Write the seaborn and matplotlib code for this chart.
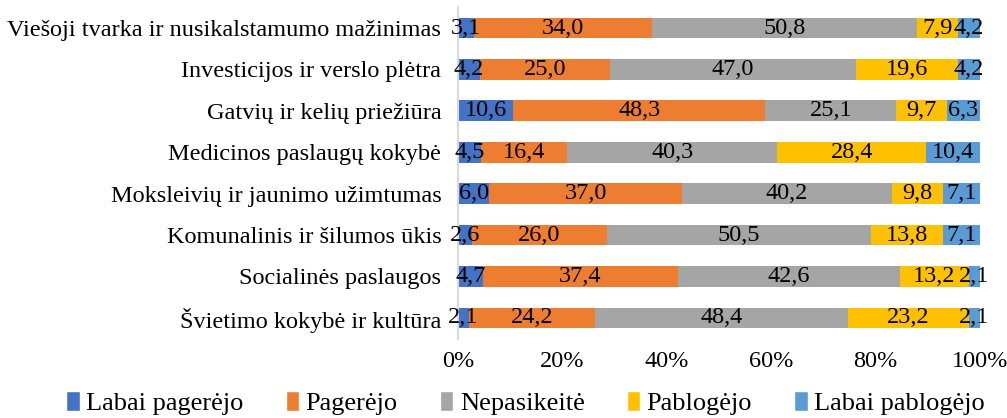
import matplotlib
matplotlib.use("Agg")
import matplotlib.pyplot as plt
import seaborn as sns
import numpy as np
import pandas as pd
from matplotlib.patches import Patch

categories = [
    "Viešoji tvarka ir nusikalstamumo mažinimas",
    "Investicijos ir verslo plėtra",
    "Gatvių ir kelių priežiūra",
    "Medicinos paslaugų kokybė",
    "Moksleivių ir jaunimo užimtumas",
    "Komunalinis ir šilumos ūkis",
    "Socialinės paslaugos",
    "Švietimo kokybė ir kultūra",
]
series_names = ["Labai pagerėjo", "Pagerėjo", "Nepasikeitė", "Pablogėjo", "Labai pablogėjo"]
labai_pagerejo = [3.1, 4.2, 10.6, 4.5, 6.0, 2.6, 4.7, 2.1]
pagerejo = [34.0, 25.0, 48.3, 16.4, 37.0, 26.0, 37.4, 24.2]
nepasikeite = [50.8, 47.0, 25.1, 40.3, 40.2, 50.5, 42.6, 48.4]
pablogejo = [7.9, 19.6, 9.7, 28.4, 9.8, 13.8, 13.2, 23.2]
labai_pablogejo = [4.2, 4.2, 6.3, 10.4, 7.1, 7.1, 2.1, 2.1]
colors = ["#4472C4", "#ED7D31", "#A5A5A5", "#FFC000", "#5B9BD5"]
xticks = [0, 20, 40, 60, 80, 100]

sns.set_theme(style="white")
plt.rcParams["font.family"] = ["Liberation Serif", "DejaVu Serif"]
plt.rcParams["text.color"] = "black"
plt.rcParams["xtick.color"] = "black"
plt.rcParams["ytick.color"] = "black"
plt.rcParams["axes.labelcolor"] = "black"

vals = np.array([labai_pagerejo, pagerejo, nepasikeite, pablogejo, labai_pablogejo])
totals = vals.sum(axis=0)
pct = vals / totals * 100
cum = np.cumsum(pct, axis=0)

fig = plt.figure(figsize=(10.07, 4.18), dpi=100)
ax = fig.add_axes([0.4548, 0.19, 0.5184, 0.7925])

for i in range(len(series_names) - 1, -1, -1):
    df = pd.DataFrame({"cat": categories, "val": cum[i]})
    sns.barplot(data=df, x="val", y="cat", color=colors[i], orient="h",
                width=0.5, ax=ax, saturation=1, linewidth=0)

FS = 17.5
for i in range(len(series_names)):
    start = cum[i] - pct[i]
    for j in range(len(categories)):
        ax.text(start[j] + pct[i][j] / 2, j, f"{vals[i][j]:.1f}".replace(".", ","),
                ha="center", va="center", fontsize=FS, color="black")

ax.set_xlim(0, 100)
ax.set_xticks(xticks)
ax.set_xticklabels([f"{t}%" for t in xticks], fontsize=FS)
ax.tick_params(axis="y", labelsize=FS, length=0, pad=12, labelcolor="black")
ax.tick_params(axis="x", length=0, pad=9, labelcolor="black")
ax.set_xlabel("")
ax.set_ylabel("")
for s in ["top", "right", "bottom"]:
    ax.spines[s].set_visible(False)
ax.spines["left"].set_color("#D9D9D9")
ax.spines["left"].set_linewidth(1.5)

handles = [Patch(facecolor=c, label=n) for c, n in zip(colors, series_names)]
fig.legend(handles=handles, loc="lower center", bbox_to_anchor=(0.522, -0.05), ncol=5,
           frameon=False, fontsize=19, handlelength=0.5, handleheight=0.8,
           handletextpad=0.25, columnspacing=1.6, labelcolor="black")

fig.savefig("out.png", dpi=100)
